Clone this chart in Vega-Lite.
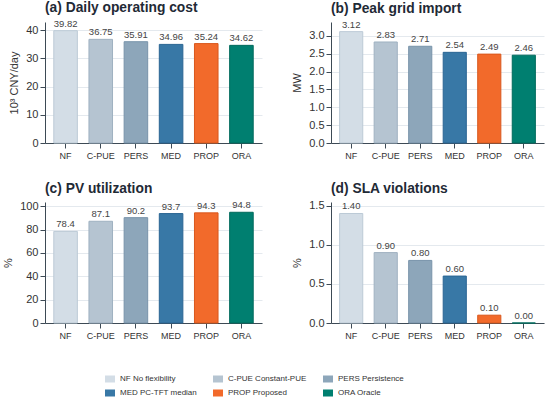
{
  "$schema": "https://vega.github.io/schema/vega-lite/v6.json",
  "background": "white",
  "padding": {"left": 2, "top": 0, "right": 5, "bottom": 5},
  "data": {
    "values": [
      {"panel": "a", "method": "NF", "scheme": "NF No flexibility", "value": 39.82},
      {"panel": "a", "method": "C-PUE", "scheme": "C-PUE Constant-PUE", "value": 36.75},
      {"panel": "a", "method": "PERS", "scheme": "PERS Persistence", "value": 35.91},
      {"panel": "a", "method": "MED", "scheme": "MED PC-TFT median", "value": 34.96},
      {"panel": "a", "method": "PROP", "scheme": "PROP Proposed", "value": 35.24},
      {"panel": "a", "method": "ORA", "scheme": "ORA Oracle", "value": 34.62},
      {"panel": "b", "method": "NF", "scheme": "NF No flexibility", "value": 3.12},
      {"panel": "b", "method": "C-PUE", "scheme": "C-PUE Constant-PUE", "value": 2.83},
      {"panel": "b", "method": "PERS", "scheme": "PERS Persistence", "value": 2.71},
      {"panel": "b", "method": "MED", "scheme": "MED PC-TFT median", "value": 2.54},
      {"panel": "b", "method": "PROP", "scheme": "PROP Proposed", "value": 2.49},
      {"panel": "b", "method": "ORA", "scheme": "ORA Oracle", "value": 2.46},
      {"panel": "c", "method": "NF", "scheme": "NF No flexibility", "value": 78.4},
      {"panel": "c", "method": "C-PUE", "scheme": "C-PUE Constant-PUE", "value": 87.1},
      {"panel": "c", "method": "PERS", "scheme": "PERS Persistence", "value": 90.2},
      {"panel": "c", "method": "MED", "scheme": "MED PC-TFT median", "value": 93.7},
      {"panel": "c", "method": "PROP", "scheme": "PROP Proposed", "value": 94.3},
      {"panel": "c", "method": "ORA", "scheme": "ORA Oracle", "value": 94.8},
      {"panel": "d", "method": "NF", "scheme": "NF No flexibility", "value": 1.40},
      {"panel": "d", "method": "C-PUE", "scheme": "C-PUE Constant-PUE", "value": 0.90},
      {"panel": "d", "method": "PERS", "scheme": "PERS Persistence", "value": 0.80},
      {"panel": "d", "method": "MED", "scheme": "MED PC-TFT median", "value": 0.60},
      {"panel": "d", "method": "PROP", "scheme": "PROP Proposed", "value": 0.10},
      {"panel": "d", "method": "ORA", "scheme": "ORA Oracle", "value": 0.00}
    ]
  },
  "spacing": 21,
  "vconcat": [
    {
      "spacing": 29,
      "hconcat": [
        {
          "width": 217,
          "height": 121,
          "title": {"text": "(a) Daily operating cost"},
          "transform": [{"filter": "datum.panel === 'a'"}],
          "encoding": {
            "x": {"field": "method", "type": "nominal", "sort": ["NF", "C-PUE", "PERS", "MED", "PROP", "ORA"], "title": null, "scale": {"paddingInner": 0.33, "paddingOuter": 0.25}},
            "y": {"field": "value", "type": "quantitative", "title": "10³ CNY/day", "scale": {"domain": [0, 42.9], "nice": false}, "axis": {"values": [0, 10, 20, 30, 40]}}
          },
          "layer": [
            {
              "mark": {"type": "bar", "strokeWidth": 1},
              "encoding": {
                "color": {"field": "scheme", "type": "nominal", "title": null, "sort": ["NF No flexibility", "C-PUE Constant-PUE", "PERS Persistence", "MED PC-TFT median", "PROP Proposed", "ORA Oracle"], "scale": {"domain": ["NF No flexibility", "C-PUE Constant-PUE", "PERS Persistence", "MED PC-TFT median", "PROP Proposed", "ORA Oracle"], "range": ["#d3dde6", "#b5c4d1", "#8da6ba", "#3878a6", "#f26a2b", "#007f70"]}},
                "stroke": {"field": "method", "type": "nominal", "legend": null, "scale": {"domain": ["NF", "C-PUE", "PERS", "MED", "PROP", "ORA"], "range": ["#bccad6", "#9fb1c1", "#7893aa", "#2a6593", "#d9581d", "#006a5c"]}}
              }
            },
            {
              "mark": {"type": "text", "baseline": "bottom", "dy": -2, "fontSize": 9.5, "color": "#444444"},
              "encoding": {"text": {"field": "value", "type": "quantitative", "format": ".2f"}}
            }
          ]
        },
        {
          "width": 213,
          "height": 121,
          "title": {"text": "(b) Peak grid import"},
          "transform": [{"filter": "datum.panel === 'b'"}],
          "encoding": {
            "x": {"field": "method", "type": "nominal", "sort": ["NF", "C-PUE", "PERS", "MED", "PROP", "ORA"], "title": null, "scale": {"paddingInner": 0.33, "paddingOuter": 0.25}},
            "y": {"field": "value", "type": "quantitative", "title": "MW", "scale": {"domain": [0, 3.39], "nice": false}, "axis": {"values": [0, 0.5, 1, 1.5, 2, 2.5, 3], "format": ".1f"}}
          },
          "layer": [
            {
              "mark": {"type": "bar", "strokeWidth": 1},
              "encoding": {
                "color": {"field": "scheme", "type": "nominal", "title": null, "sort": ["NF No flexibility", "C-PUE Constant-PUE", "PERS Persistence", "MED PC-TFT median", "PROP Proposed", "ORA Oracle"], "scale": {"domain": ["NF No flexibility", "C-PUE Constant-PUE", "PERS Persistence", "MED PC-TFT median", "PROP Proposed", "ORA Oracle"], "range": ["#d3dde6", "#b5c4d1", "#8da6ba", "#3878a6", "#f26a2b", "#007f70"]}},
                "stroke": {"field": "method", "type": "nominal", "legend": null, "scale": {"domain": ["NF", "C-PUE", "PERS", "MED", "PROP", "ORA"], "range": ["#bccad6", "#9fb1c1", "#7893aa", "#2a6593", "#d9581d", "#006a5c"]}}
              }
            },
            {
              "mark": {"type": "text", "baseline": "bottom", "dy": -2, "fontSize": 9.5, "color": "#444444"},
              "encoding": {"text": {"field": "value", "type": "quantitative", "format": ".2f"}}
            }
          ]
        }
      ]
    },
    {
      "spacing": 29,
      "hconcat": [
        {
          "width": 217,
          "height": 121,
          "title": {"text": "(c) PV utilization"},
          "transform": [{"filter": "datum.panel === 'c'"}],
          "encoding": {
            "x": {"field": "method", "type": "nominal", "sort": ["NF", "C-PUE", "PERS", "MED", "PROP", "ORA"], "title": null, "scale": {"paddingInner": 0.33, "paddingOuter": 0.25}},
            "y": {"field": "value", "type": "quantitative", "title": "%", "scale": {"domain": [0, 103.6], "nice": false}, "axis": {"values": [0, 20, 40, 60, 80, 100]}}
          },
          "layer": [
            {
              "mark": {"type": "bar", "strokeWidth": 1},
              "encoding": {
                "color": {"field": "scheme", "type": "nominal", "title": null, "sort": ["NF No flexibility", "C-PUE Constant-PUE", "PERS Persistence", "MED PC-TFT median", "PROP Proposed", "ORA Oracle"], "scale": {"domain": ["NF No flexibility", "C-PUE Constant-PUE", "PERS Persistence", "MED PC-TFT median", "PROP Proposed", "ORA Oracle"], "range": ["#d3dde6", "#b5c4d1", "#8da6ba", "#3878a6", "#f26a2b", "#007f70"]}},
                "stroke": {"field": "method", "type": "nominal", "legend": null, "scale": {"domain": ["NF", "C-PUE", "PERS", "MED", "PROP", "ORA"], "range": ["#bccad6", "#9fb1c1", "#7893aa", "#2a6593", "#d9581d", "#006a5c"]}}
              }
            },
            {
              "mark": {"type": "text", "baseline": "bottom", "dy": -2, "fontSize": 9.5, "color": "#444444"},
              "encoding": {"text": {"field": "value", "type": "quantitative", "format": ".1f"}}
            }
          ]
        },
        {
          "width": 213,
          "height": 121,
          "title": {"text": "(d) SLA violations"},
          "transform": [{"filter": "datum.panel === 'd'"}],
          "encoding": {
            "x": {"field": "method", "type": "nominal", "sort": ["NF", "C-PUE", "PERS", "MED", "PROP", "ORA"], "title": null, "scale": {"paddingInner": 0.33, "paddingOuter": 0.25}},
            "y": {"field": "value", "type": "quantitative", "title": "%", "scale": {"domain": [0, 1.547], "nice": false}, "axis": {"values": [0, 0.5, 1, 1.5], "format": ".1f"}}
          },
          "layer": [
            {
              "mark": {"type": "bar", "strokeWidth": 1},
              "encoding": {
                "color": {"field": "scheme", "type": "nominal", "title": null, "sort": ["NF No flexibility", "C-PUE Constant-PUE", "PERS Persistence", "MED PC-TFT median", "PROP Proposed", "ORA Oracle"], "scale": {"domain": ["NF No flexibility", "C-PUE Constant-PUE", "PERS Persistence", "MED PC-TFT median", "PROP Proposed", "ORA Oracle"], "range": ["#d3dde6", "#b5c4d1", "#8da6ba", "#3878a6", "#f26a2b", "#007f70"]}},
                "stroke": {"field": "method", "type": "nominal", "legend": null, "scale": {"domain": ["NF", "C-PUE", "PERS", "MED", "PROP", "ORA"], "range": ["#bccad6", "#9fb1c1", "#7893aa", "#2a6593", "#d9581d", "#006a5c"]}}
              }
            },
            {
              "mark": {"type": "text", "baseline": "bottom", "dy": -2, "fontSize": 9.5, "color": "#444444"},
              "encoding": {"text": {"field": "value", "type": "quantitative", "format": ".2f"}}
            }
          ]
        }
      ]
    }
  ],
  "resolve": {"scale": {"color": "shared", "stroke": "shared"}},
  "config": {
    "font": "Liberation Sans",
    "view": {"stroke": null},
    "title": {"anchor": "start", "frame": "group", "fontSize": 13.8, "fontWeight": "bold", "color": "#1f2a36", "offset": 4},
    "axis": {
      "domainColor": "#3d4a55",
      "tickColor": "#3d4a55",
      "tickSize": 5,
      "labelColor": "#333333",
      "labelFont": "Liberation Sans",
      "titleFont": "Liberation Sans",
      "titleFontWeight": "normal",
      "titleColor": "#333333",
      "titleFontSize": 11
    },
    "axisX": {"grid": false, "labelAngle": 0, "labelFontSize": 9, "labelPadding": 3},
    "axisY": {"grid": true, "gridColor": "#e4e9ee", "labelFontSize": 11, "labelPadding": 2, "titlePadding": 6},
    "legend": {
      "orient": "none",
      "legendX": 60,
      "legendY": 352,
      "direction": "horizontal",
      "columns": 3,
      "columnPadding": 16,
      "rowPadding": 5,
      "symbolType": "M-1,-0.7H1V0.7H-1Z",
      "symbolSize": 100,
      "symbolStrokeWidth": 0,
      "labelFontSize": 8,
      "labelColor": "#333333",
      "labelOffset": 5
    }
  }
}
